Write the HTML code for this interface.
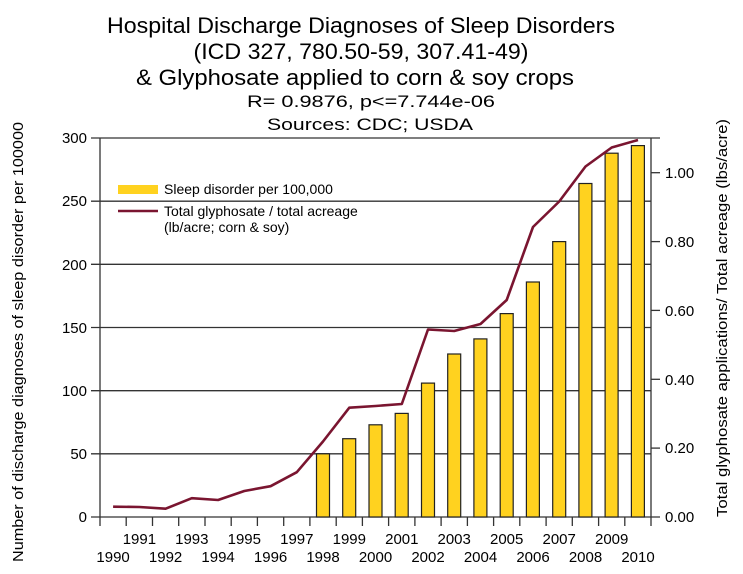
<!DOCTYPE html>
<html><head><meta charset="utf-8"><style>
html,body{margin:0;padding:0;background:#fff;}
svg{display:block;font-family:"Liberation Sans",sans-serif;}
</style></head><body>
<svg width="743" height="574" viewBox="0 0 743 574" xmlns="http://www.w3.org/2000/svg">
<rect width="743" height="574" fill="#fff"/>
<g fill="#000" text-anchor="middle">
<text x="361" y="33" font-size="22" textLength="508" lengthAdjust="spacingAndGlyphs">Hospital Discharge Diagnoses of Sleep Disorders</text>
<text x="361" y="59" font-size="22" textLength="335" lengthAdjust="spacingAndGlyphs">(ICD 327, 780.50-59, 307.41-49)</text>
<text x="355" y="85" font-size="22" textLength="438" lengthAdjust="spacingAndGlyphs">&amp; Glyphosate applied to corn &amp; soy crops</text>
<text x="371" y="107" font-size="17" textLength="248" lengthAdjust="spacingAndGlyphs">R= 0.9876, p&lt;=7.744e-06</text>
<text x="370" y="130" font-size="17" textLength="206" lengthAdjust="spacingAndGlyphs">Sources: CDC; USDA</text>
</g>
<g stroke="#333" stroke-width="1.3">
<line x1="91" y1="138" x2="660" y2="138"/>
<line x1="91" y1="201.2" x2="651" y2="201.2"/>
<line x1="91" y1="264.3" x2="651" y2="264.3"/>
<line x1="91" y1="327.5" x2="651" y2="327.5"/>
<line x1="91" y1="390.7" x2="651" y2="390.7"/>
<line x1="91" y1="453.8" x2="651" y2="453.8"/>
<line x1="91" y1="517" x2="660" y2="517"/>
<line x1="100" y1="138" x2="100" y2="526"/>
<line x1="651" y1="138" x2="651" y2="517"/>
<line x1="651" y1="172.7" x2="660" y2="172.7"/>
<line x1="651" y1="241.6" x2="660" y2="241.6"/>
<line x1="651" y1="310.4" x2="660" y2="310.4"/>
<line x1="651" y1="379.3" x2="660" y2="379.3"/>
<line x1="651" y1="448.1" x2="660" y2="448.1"/>
</g>
<g stroke="#333" stroke-width="1.3">
<line x1="126.2" y1="517" x2="126.2" y2="526"/><line x1="152.5" y1="517" x2="152.5" y2="526"/>
<line x1="178.7" y1="517" x2="178.7" y2="526"/><line x1="205" y1="517" x2="205" y2="526"/>
<line x1="231.2" y1="517" x2="231.2" y2="526"/><line x1="257.4" y1="517" x2="257.4" y2="526"/>
<line x1="283.7" y1="517" x2="283.7" y2="526"/><line x1="309.9" y1="517" x2="309.9" y2="526"/>
<line x1="336.2" y1="517" x2="336.2" y2="526"/><line x1="362.4" y1="517" x2="362.4" y2="526"/>
<line x1="388.6" y1="517" x2="388.6" y2="526"/><line x1="414.9" y1="517" x2="414.9" y2="526"/>
<line x1="441.1" y1="517" x2="441.1" y2="526"/><line x1="467.4" y1="517" x2="467.4" y2="526"/>
<line x1="493.6" y1="517" x2="493.6" y2="526"/><line x1="519.8" y1="517" x2="519.8" y2="526"/>
<line x1="546.1" y1="517" x2="546.1" y2="526"/><line x1="572.3" y1="517" x2="572.3" y2="526"/>
<line x1="598.6" y1="517" x2="598.6" y2="526"/><line x1="624.8" y1="517" x2="624.8" y2="526"/>
<line x1="651" y1="517" x2="651" y2="526"/>
</g>
<g fill="#ffd21f" stroke="#222" stroke-width="1.2">
<rect x="316.5" y="453.8" width="13" height="63.2"/>
<rect x="342.7" y="438.7" width="13" height="78.3"/>
<rect x="369" y="424.8" width="13" height="92.2"/>
<rect x="395.2" y="413.4" width="13" height="103.6"/>
<rect x="421.5" y="383.1" width="13" height="133.9"/>
<rect x="447.7" y="354" width="13" height="163"/>
<rect x="473.9" y="338.9" width="13" height="178.1"/>
<rect x="500.2" y="313.6" width="13" height="203.4"/>
<rect x="526.4" y="282" width="13" height="235"/>
<rect x="552.7" y="241.6" width="13" height="275.4"/>
<rect x="578.9" y="183.5" width="13" height="333.5"/>
<rect x="605.1" y="153.2" width="13" height="363.8"/>
<rect x="631.4" y="145.6" width="13" height="371.4"/>
</g>
<polyline fill="none" stroke="#7a1530" stroke-width="2.6" stroke-linejoin="round" points="113.1,506.7 139.4,507 165.6,508.7 191.8,498.2 218.1,500 244.3,491 270.6,486.2 296.8,472.2 323,441.5 349.3,407.7 375.5,406 401.8,404 428,329.5 454.2,331 480.5,324 506.7,300 533,227 559.2,201.5 585.5,166.5 611.7,147.5 638,140"/>
<rect x="118" y="185" width="40" height="9" fill="#ffd21f"/>
<line x1="118" y1="211" x2="158" y2="211" stroke="#7a1530" stroke-width="2.6"/>
<g font-size="14" fill="#000">
<text x="164" y="194">Sleep disorder per 100,000</text>
<text x="164" y="216">Total glyphosate / total acreage</text>
<text x="164" y="232">(lb/acre; corn &amp; soy)</text>
</g>
<g font-size="15" fill="#000" text-anchor="end">
<text x="87" y="143">300</text><text x="87" y="206">250</text><text x="87" y="270">200</text>
<text x="87" y="333">150</text><text x="87" y="396">100</text><text x="87" y="459">50</text><text x="87" y="522">0</text>
</g>
<g font-size="15" fill="#000">
<text x="665" y="178">1.00</text><text x="665" y="247">0.80</text><text x="665" y="316">0.60</text>
<text x="665" y="385">0.40</text><text x="665" y="453">0.20</text><text x="665" y="522">0.00</text>
</g>
<g font-size="15" fill="#000" text-anchor="middle">
<text x="113.1" y="562">1990</text><text x="139.4" y="544">1991</text><text x="165.6" y="562">1992</text>
<text x="191.8" y="544">1993</text><text x="218.1" y="562">1994</text><text x="244.3" y="544">1995</text>
<text x="270.6" y="562">1996</text><text x="296.8" y="544">1997</text><text x="323" y="562">1998</text>
<text x="349.3" y="544">1999</text><text x="375.5" y="562">2000</text><text x="401.8" y="544">2001</text>
<text x="428" y="562">2002</text><text x="454.2" y="544">2003</text><text x="480.5" y="562">2004</text>
<text x="506.7" y="544">2005</text><text x="533" y="562">2006</text><text x="559.2" y="544">2007</text>
<text x="585.5" y="562">2008</text><text x="611.7" y="544">2009</text><text x="638" y="562">2010</text>
</g>
<text transform="translate(23,342) rotate(-90)" font-size="15" text-anchor="middle" textLength="440" lengthAdjust="spacingAndGlyphs">Number of discharge diagnoses of sleep disorder per 100000</text>
<text transform="translate(727,318) rotate(-90)" font-size="15" text-anchor="middle" textLength="398" lengthAdjust="spacingAndGlyphs">Total glyphosate applications/ Total acreage (lbs/acre)</text>
</svg>
</body></html>
